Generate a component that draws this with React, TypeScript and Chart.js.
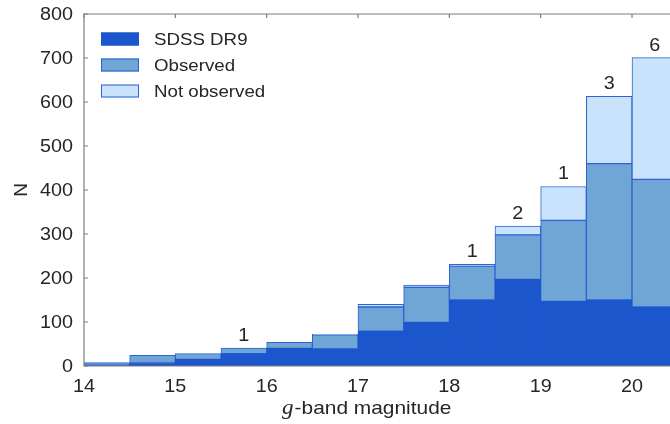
import React, { useEffect, useRef } from "react";
import { Chart, registerables } from "chart.js";
Chart.register(...registerables);

// Histogram bins (lower edges, width 0.5 mag)
const binStarts = [14, 14.5, 15, 15.5, 16, 16.5, 17, 17.5, 18, 18.5, 19, 19.5, 20];
const binWidth = 0.5;
// Stacked segment heights (counts)
const sdssDR9 = [2, 8, 15, 28, 40, 39, 79, 99, 150, 197, 147, 150, 134];
const observedExtra = [6, 16, 13, 13, 14, 32, 55, 80, 77, 101, 184, 310, 290];
const notObserved = [0, 0, 0, 0, 0, 1, 6, 5, 4, 20, 77, 153, 277];
// Numbers written above bars
const barNotes = ["", "", "", "1", "", "", "", "", "1", "2", "1", "3", "6"];
const xTickValues = [14, 15, 16, 17, 18, 19, 20];
const yTickValues = [0, 100, 200, 300, 400, 500, 600, 700, 800];
const legendLabels = ["SDSS DR9", "Observed", "Not observed"];

const COL_DARK = "#1c56cd";
const COL_OBS = "#6fa6d5";
const COL_NOT = "#c8e3fb";
const COL_BORDER = "#2d63d2";
const AXIS = "#7f7f7f";
const TEXT = "#262626";
const SANS = "'Liberation Sans', Arial, Helvetica, sans-serif";
const STRETCH = 1.1;

export default function App() {
  const ref = useRef<HTMLCanvasElement>(null);
  useEffect(() => {
    document.body.style.margin = "0";
    const pts = (arr: number[]) => binStarts.map((b, i) => ({ x: b + binWidth / 2, y: arr[i] }));
    const txt = (ctx: any, s: string, x: number, y: number, align: string, base: string, font: string) => {
      ctx.save();
      ctx.translate(x, y);
      ctx.scale(STRETCH, 1);
      ctx.font = font;
      ctx.textAlign = align;
      ctx.textBaseline = base;
      ctx.fillText(s, 0, 0);
      const w = ctx.measureText(s).width * STRETCH;
      ctx.restore();
      return w;
    };
    const overlay = {
      id: "overlay",
      afterDatasetsDraw(chart: any) {
        const { ctx, chartArea: a, scales } = chart;
        const xs = scales.x, ys = scales.y;
        ctx.save();
        // frame
        ctx.strokeStyle = AXIS;
        ctx.lineWidth = 1.2;
        ctx.beginPath();
        ctx.moveTo(a.right + 2, a.top);
        ctx.lineTo(a.left, a.top);
        ctx.lineTo(a.left, a.bottom);
        ctx.lineTo(a.right + 2, a.bottom);
        ctx.stroke();
        // inward ticks
        ctx.beginPath();
        yTickValues.forEach((v) => {
          const y = ys.getPixelForValue(v);
          ctx.moveTo(a.left, y);
          ctx.lineTo(a.left + 4, y);
        });
        xTickValues.forEach((v) => {
          const x = xs.getPixelForValue(v);
          ctx.moveTo(x, a.top);
          ctx.lineTo(x, a.top + 4);
        });
        ctx.stroke();
        ctx.fillStyle = TEXT;
        const tickFont = `18px ${SANS}`;
        yTickValues.forEach((v) => {
          txt(ctx, String(v), a.left - 11, ys.getPixelForValue(v) + 1, "right", "middle", tickFont);
        });
        xTickValues.forEach((v) => {
          txt(ctx, String(v), xs.getPixelForValue(v), 392, "center", "alphabetic", tickFont);
        });
        // notes above bars
        binStarts.forEach((b, i) => {
          if (!barNotes[i]) return;
          const total = sdssDR9[i] + observedExtra[i] + notObserved[i];
          txt(ctx, barNotes[i], xs.getPixelForValue(b + binWidth / 2), ys.getPixelForValue(total) - 7, "center", "alphabetic", `18px ${SANS}`);
        });
        // legend
        const fills = [COL_DARK, COL_OBS, COL_NOT];
        const borders = [COL_DARK, COL_BORDER, COL_BORDER];
        legendLabels.forEach((lab, i) => {
          const cy = 39 + i * 26;
          ctx.fillStyle = fills[i];
          ctx.fillRect(101, cy - 6.5, 38, 13);
          ctx.strokeStyle = borders[i];
          ctx.lineWidth = 1;
          ctx.strokeRect(101.5, cy - 6, 37, 12);
          ctx.fillStyle = TEXT;
          txt(ctx, lab, 154, cy + 1, "left", "middle", `17px ${SANS}`);
        });
        // axis titles
        ctx.fillStyle = TEXT;
        const gx = 282;
        const gw = txt(ctx, "g", gx, 414, "left", "alphabetic", `italic 21px 'Liberation Serif', 'Times New Roman', serif`);
        txt(ctx, "-band magnitude", gx + gw + 1, 414, "left", "alphabetic", `19px ${SANS}`);
        ctx.save();
        ctx.translate(22, (a.top + a.bottom) / 2);
        ctx.rotate(-Math.PI / 2);
        ctx.textAlign = "center";
        ctx.textBaseline = "middle";
        ctx.font = `19px ${SANS}`;
        ctx.fillText("N", 0, 0);
        ctx.restore();
        ctx.restore();
      },
    };
    const common = { borderWidth: 1, borderSkipped: false, barPercentage: 1, categoryPercentage: 1 };
    const chart = new Chart(ref.current!, {
      type: "bar",
      data: {
        datasets: [
          { label: legendLabels[0], data: pts(sdssDR9), backgroundColor: COL_DARK, borderColor: COL_DARK, ...common },
          { label: legendLabels[1], data: pts(observedExtra), backgroundColor: COL_OBS, borderColor: COL_BORDER, ...common },
          { label: legendLabels[2], data: pts(notObserved), backgroundColor: COL_NOT, borderColor: COL_BORDER, ...common },
        ] as any,
      },
      options: {
        animation: false,
        responsive: false,
        maintainAspectRatio: false,
        layout: { padding: { top: 14, right: 0, left: 0, bottom: 0 } },
        plugins: { legend: { display: false }, tooltip: { enabled: false } },
        scales: {
          x: {
            type: "linear",
            stacked: true,
            offset: false,
            min: 14,
            max: 20.416,
            grid: { display: false, drawTicks: false, offset: false },
            border: { display: false },
            afterFit: (s: any) => { s.height = 58; },
            afterBuildTicks: (s: any) => { s.ticks = xTickValues.map((v) => ({ value: v })); },
            ticks: { display: false, includeBounds: false },
          },
          y: {
            stacked: true,
            min: 0,
            max: 800,
            grid: { display: false, drawTicks: false },
            border: { display: false },
            afterFit: (s: any) => { s.width = 84; },
            afterBuildTicks: (s: any) => { s.ticks = yTickValues.map((v) => ({ value: v })); },
            ticks: { display: false },
          },
        },
      } as any,
      plugins: [overlay],
    });
    return () => chart.destroy();
  }, []);
  return (
    <div style={{ position: "fixed", left: 0, top: 0, width: 670, height: 424, background: "#fff" }}>
      <canvas ref={ref} width={670} height={424} style={{ width: 670, height: 424 }} />
    </div>
  );
}
